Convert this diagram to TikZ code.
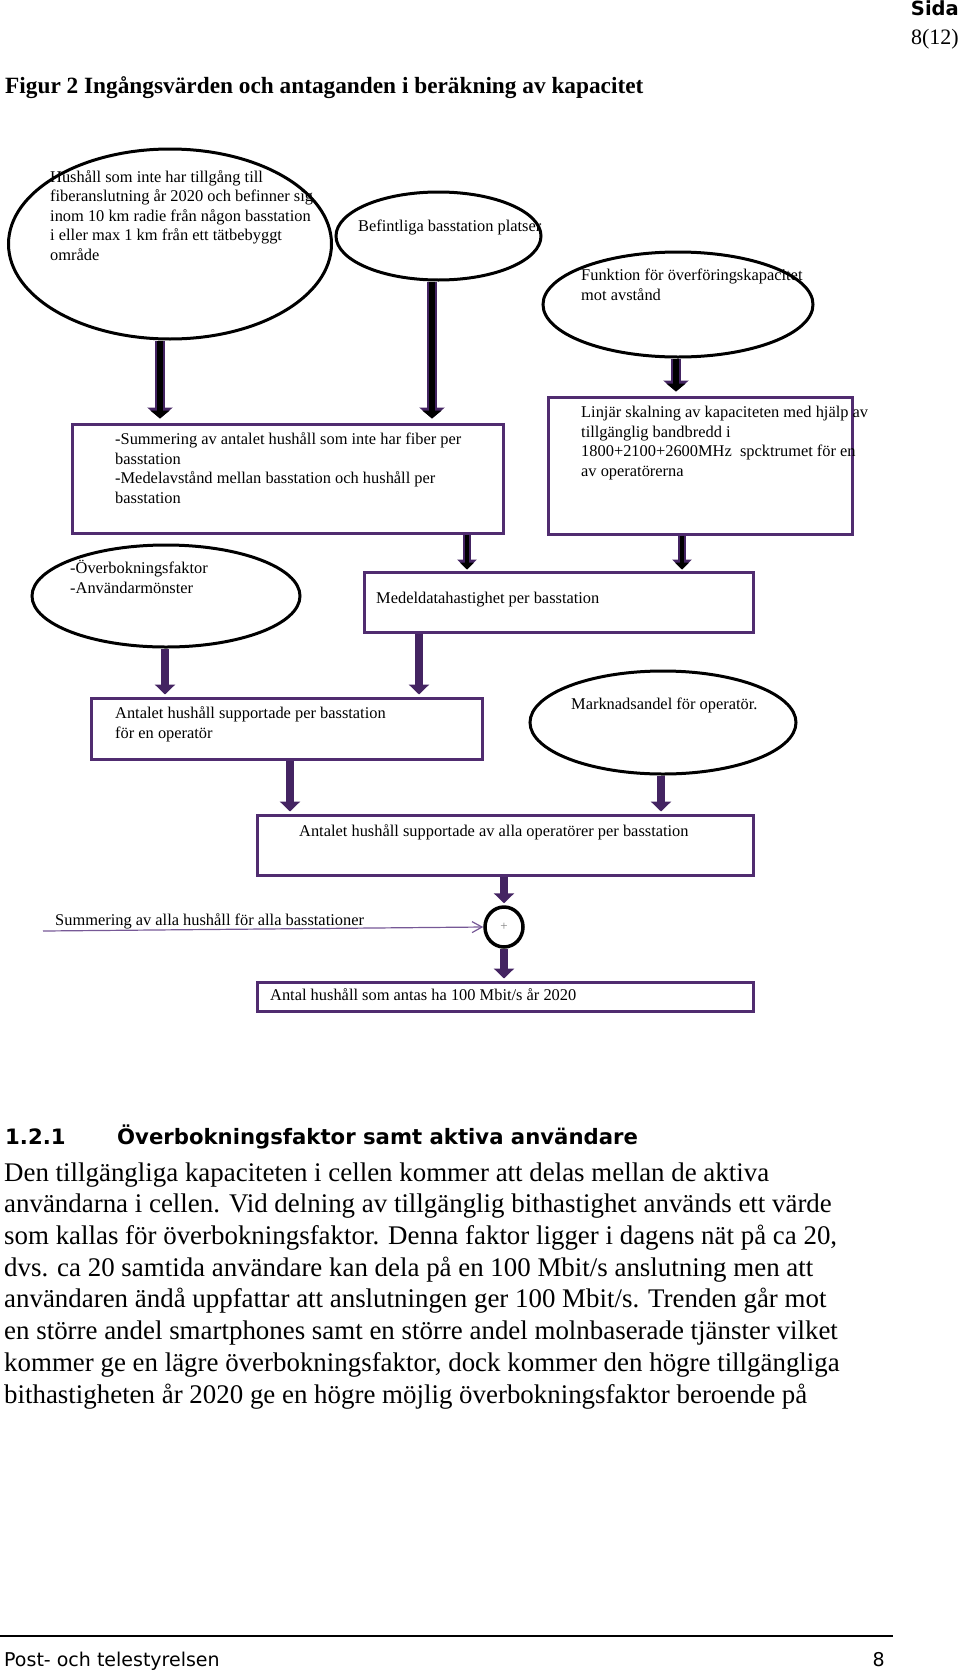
\documentclass[tikz,border=0pt]{standalone}
\usepackage{fontspec}
\setmainfont{Liberation Serif}
\setsansfont{DejaVu Sans}
\usetikzlibrary{shapes.geometric,arrows.meta}

\begin{document}
\begin{tikzpicture}[x=1pt,y=-1pt,
    oval/.style={ellipse,draw=black,line width=3pt,inner sep=0pt},
    flowbox/.style={rectangle,draw=boxpurple,line width=3pt,inner sep=0pt},
    flowtext/.style={anchor=base west,align=left,inner sep=0pt,font=\fontsize{16.4}{19.5}\selectfont},
    bigarrow/.style={draw=black,line width=6pt,shorten >=4pt,-{Triangle[width=19pt,length=8pt]},
      preaction={draw=arrowpurple,line width=10pt,shorten >=4pt,-{Triangle[width=25pt,length=11pt]}}},
    midarrow/.style={draw=black,line width=4pt,shorten >=1pt,-{Triangle[width=14pt,length=7pt]},
      preaction={draw=arrowpurple,line width=8pt,shorten >=1pt,-{Triangle[width=19pt,length=10pt]}}},
    flowarrow/.style={draw=arrowpurple,line width=8pt,shorten >=2pt,-{Triangle[width=20pt,length=10pt]}},
    sumline/.style={draw=linepurple,line width=1.2pt,-{Straight Barb[width=11pt,length=10pt]}}]
    \definecolor{boxpurple}{RGB}{80,44,112}
    \definecolor{arrowpurple}{RGB}{68,36,98}
    \definecolor{linepurple}{RGB}{118,88,150}
    \useasboundingbox (0,0) rectangle (960,1670);

    % sidhuvud
    \node[anchor=base east,inner sep=0pt,font=\sffamily\bfseries\fontsize{19.5}{23}\selectfont] (sida) at (959,16) {Sida};
    \node[anchor=base east,inner sep=0pt,font=\fontsize{22}{26}\selectfont] (sidnr) at (959,45) {8(12)};
    \node[anchor=base west,inner sep=0pt,font=\bfseries\fontsize{23.3}{27}\selectfont] (figur) at (5,93) {Figur 2 Ingångsvärden och antaganden i beräkning av kapacitet};

    % former
    \node[oval,minimum width=323pt,minimum height=190pt] (e1) at (170,244) {};
    \node[oval,minimum width=205pt,minimum height=88pt] (e2) at (438.5,236) {};
    \node[oval,minimum width=270pt,minimum height=105pt] (e3) at (678,304.5) {};
    \node[flowbox,minimum width=431pt,minimum height=109pt] (b1) at (287.5,478.5) {};
    \node[flowbox,minimum width=304pt,minimum height=137pt] (b2) at (700,465.5) {};
    \node[oval,minimum width=268pt,minimum height=102pt] (e4) at (166,596) {};
    \node[flowbox,minimum width=389pt,minimum height=60pt] (b3) at (558.5,602) {};
    \node[flowbox,minimum width=391pt,minimum height=61pt] (b4) at (286.5,728.5) {};
    \node[oval,minimum width=266pt,minimum height=103pt] (e5) at (663,722.5) {};
    \node[flowbox,minimum width=496pt,minimum height=60pt] (b5) at (505,845) {};
    \node[oval,line width=3.5pt,minimum width=38pt,minimum height=40pt,text=gray,font=\fontsize{13}{15}\selectfont] (plus) at (504,927) {+};
    \node[flowbox,minimum width=496pt,minimum height=29pt] (b6) at (505,996.5) {};

    % texter
    \node[flowtext] (e1text) at (50,260) {Hushåll som inte har tillgång till\\fiberanslutning år 2020 och befinner sig\\inom 10 km radie från någon basstation\\i eller max 1 km från ett tätbebyggt\\område};
    \node[flowtext] (e2text) at (358,231) {Befintliga basstation platser};
    \node[flowtext] (e3text) at (581,300) {Funktion för överföringskapacitet\\mot avstånd};
    \node[flowtext] (b1text) at (115,503) {-Summering av antalet hushåll som inte har fiber per\\basstation\\-Medelavstånd mellan basstation och hushåll per\\basstation};
    \node[flowtext] (b2text) at (581,476) {Linjär skalning av kapaciteten med hjälp av\\tillgänglig bandbredd i\\1800+2100+2600MHz\ \ spcktrumet för en\\av operatörerna};
    \node[flowtext] (e4text) at (70,593) {-Överbokningsfaktor\\-Användarmönster};
    \node[flowtext] (b3text) at (376,603) {Medeldatahastighet per basstation};
    \node[flowtext] (b4text) at (115,738) {Antalet hushåll supportade per basstation\\för en operatör};
    \node[flowtext] (e5text) at (571,709) {Marknadsandel för operatör.};
    \node[flowtext] (b5text) at (299,836) {Antalet hushåll supportade av alla operatörer per basstation};
    \node[flowtext] (sumtext) at (55,925) {Summering av alla hushåll för alla basstationer};
    \node[flowtext] (b6text) at (270,1000) {Antal hushåll som antas ha 100 Mbit/s år 2020};

    % pilar
    \draw[bigarrow] (e1.south -| 160,0) -- (b1.north -| 160,0);
    \draw[bigarrow] (e2.south -| 432,0) -- (b1.north -| 432,0);
    \draw[bigarrow] (e3.south -| 676,0) -- (b2.north -| 676,0);
    \draw[midarrow] (b1.south -| 467,0) -- (b3.north -| 467,0);
    \draw[midarrow] (b2.south -| 682,0) -- (b3.north -| 682,0);
    \draw[flowarrow] (e4.south -| 165,0) -- (b4.north -| 165,0);
    \draw[flowarrow] (b3.south -| 419,0) -- (b4.north -| 419,0);
    \draw[flowarrow] (b4.south -| 290,0) -- (b5.north -| 290,0);
    \draw[flowarrow] (e5.south -| 661,0) -- (b5.north -| 661,0);
    \draw[flowarrow] (b5.south -| plus) -- (plus);
    \draw[flowarrow] (plus) -- (b6.north -| plus);
    \coordinate (sumstart) at (43,931);
    \draw[sumline] (sumstart) -- (plus.west);

    % brödtext
    \node[anchor=base west,inner sep=0pt,font=\sffamily\bfseries\fontsize{21.2}{25}\selectfont] (rubriknr) at (5,1144) {1.2.1};
    \node[anchor=base west,inner sep=0pt,font=\sffamily\bfseries\fontsize{21.2}{25}\selectfont] (rubrik) at (117,1144) {Överbokningsfaktor samt aktiva användare};
    \node[anchor=base west,align=left,inner sep=0pt,font=\fontsize{26.9}{31.7}\selectfont] (stycke) at (4,1403) {Den tillgängliga kapaciteten i cellen kommer att delas mellan de aktiva\\användarna i cellen. Vid delning av tillgänglig bithastighet används ett värde\\som kallas för överbokningsfaktor. Denna faktor ligger i dagens nät på ca 20,\\dvs. ca 20 samtida användare kan dela på en 100 Mbit/s anslutning men att\\användaren ändå uppfattar att anslutningen ger 100 Mbit/s. Trenden går mot\\en större andel smartphones samt en större andel molnbaserade tjänster vilket\\kommer ge en lägre överbokningsfaktor, dock kommer den högre tillgängliga\\bithastigheten år 2020 ge en högre möjlig överbokningsfaktor beroende på};

    % sidfot
    \draw[line width=1.2pt] (0,1636) -- (893,1636);
    \node[anchor=base west,inner sep=0pt,font=\sffamily\fontsize{19}{22}\selectfont] (fotvanster) at (4,1666) {Post- och telestyrelsen};
    \node[anchor=base east,inner sep=0pt,font=\sffamily\fontsize{19}{22}\selectfont] (fothoger) at (885,1666) {8};
\end{tikzpicture}
\end{document}
